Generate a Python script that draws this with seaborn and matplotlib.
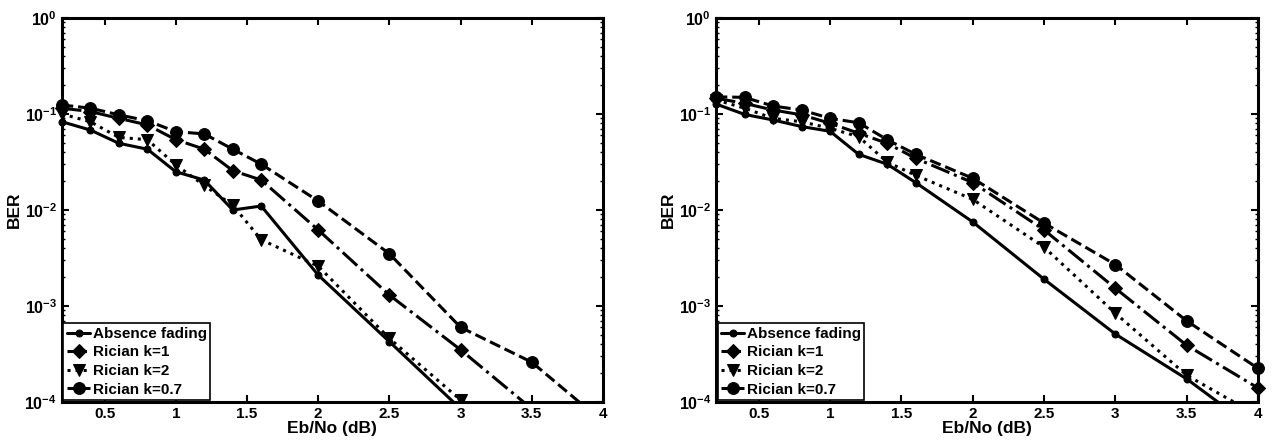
import math

import matplotlib
matplotlib.use("Agg")
import matplotlib.pyplot as plt
import matplotlib.ticker as mticker
from matplotlib.transforms import Bbox, TransformedBbox
import pandas as pd
import seaborn as sns

# Eb/No sample points (dB)
ebno = [0.2, 0.4, 0.6, 0.8, 1.0, 1.2, 1.4, 1.6, 2.0, 2.5, 3.0, 3.5, 4.0]

series_names = ["Absence fading", "Rician k=1", "Rician k=2", "Rician k=0.7"]

# left panel
left_absence = [0.083, 0.068, 0.0495, 0.043, 0.025, 0.0205, 0.010, 0.011, 0.0021, 0.000425, 8.5e-5]
left_k1 = [0.115, 0.106, 0.090, 0.077, 0.054, 0.043, 0.0257, 0.0205, 0.0062, 0.0013, 3.5e-4, 8.5e-5]
left_k2 = [0.100, 0.083, 0.057, 0.054, 0.0295, 0.018, 0.0112, 0.0049, 0.0026, 0.00046, 1.05e-4]
left_k07 = [0.124, 0.115, 0.098, 0.085, 0.0655, 0.062, 0.043, 0.030, 0.0124, 0.0035, 6.0e-4, 2.6e-4, 6.2e-5]

# right panel
right_absence = [0.127, 0.099, 0.0866, 0.074, 0.066, 0.038, 0.030, 0.0193, 0.0075, 0.0019, 5.1e-4, 1.74e-4, 4.9e-5]
right_k1 = [0.146, 0.129, 0.110, 0.098, 0.080, 0.063, 0.0495, 0.0345, 0.0193, 0.0062, 0.00153, 3.9e-4, 1.4e-4]
right_k2 = [0.140, 0.115, 0.090, 0.083, 0.071, 0.058, 0.0315, 0.023, 0.0129, 0.0041, 8.4e-4, 1.9e-4, 7.2e-5]
right_k07 = [0.151, 0.149, 0.121, 0.110, 0.090, 0.081, 0.054, 0.038, 0.0214, 0.0073, 0.0027, 7.0e-4, 2.24e-4]

styles = {
    "Absence fading": dict(ls="-", marker="o", ms=5),
    "Rician k=1": dict(ls="-.", marker="D", ms=7),
    "Rician k=2": dict(ls=":", marker="v", ms=9),
    "Rician k=0.7": dict(ls="--", marker="o", ms=8.5),
}

sns.set_theme(style="ticks")
plt.rcParams["font.family"] = ["Liberation Sans", "DejaVu Sans"]
plt.rcParams["font.weight"] = "bold"
plt.rcParams["text.color"] = "black"
plt.rcParams["axes.labelcolor"] = "black"
plt.rcParams["xtick.color"] = "black"
plt.rcParams["ytick.color"] = "black"
plt.rcParams["mathtext.fontset"] = "custom"
plt.rcParams["mathtext.bf"] = "Liberation Sans:bold"
plt.rcParams["mathtext.rm"] = "Liberation Sans:bold"
plt.rcParams["mathtext.default"] = "bf"


def make_df(cols):
    rows = []
    for name, vals in zip(series_names, cols):
        for x, y in zip(ebno, vals):
            rows.append({"Eb/No": x, "BER": y, "series": name})
    return pd.DataFrame(rows)


def draw(ax, df):
    for name in series_names:
        st = styles[name]
        sns.lineplot(
            data=df[df["series"] == name],
            x="Eb/No",
            y="BER",
            ax=ax,
            color="black",
            linewidth=2.2,
            linestyle=st["ls"],
            marker=st["marker"],
            markersize=st["ms"],
            markeredgecolor="black",
            markerfacecolor="black",
            label=name,
        )
    # let markers spill over the left/right/top spines (bottom stays clipped)
    box = TransformedBbox(Bbox([[-0.04, 0.0], [1.04, 1.05]]), ax.transAxes)
    for ln in ax.lines:
        ln.set_clip_box(box)
        ln.set_zorder(3)
    ax.set_yscale("log")
    ax.set_xlim(0.2, 4)
    ax.set_ylim(1e-4, 1)
    ax.set_xticks([0.5, 1, 1.5, 2, 2.5, 3, 3.5, 4])
    ax.xaxis.set_major_formatter(mticker.FuncFormatter(lambda v, p: f"{v:g}"))
    ax.set_yticks([1e-4, 1e-3, 1e-2, 1e-1, 1])
    ax.yaxis.set_major_formatter(
        mticker.FuncFormatter(lambda v, p: r"$\mathbf{10^{%d}}$" % round(math.log10(v)))
    )
    ax.yaxis.set_minor_locator(mticker.LogLocator(base=10, subs=range(2, 10)))
    ax.yaxis.set_minor_formatter(mticker.NullFormatter())
    ax.tick_params(which="both", direction="in", top=True, right=True, labelsize=11)
    ax.tick_params(axis="y", labelsize=11.5)
    ax.tick_params(which="major", length=5, width=1.5)
    ax.tick_params(which="minor", length=2.5, width=1)
    for s in ax.spines.values():
        s.set_linewidth(2.2)
        s.set_color("black")
    ax.set_xlabel("Eb/No (dB)", fontsize=12.5, fontweight="bold", labelpad=0)
    ax.set_ylabel("BER", fontsize=12.5, fontweight="bold", labelpad=2)
    leg = ax.legend(
        loc="lower left",
        fontsize=11,
        handlelength=1.5,
        handletextpad=0.15,
        borderpad=0.25,
        labelspacing=0.3,
        borderaxespad=0.1,
        fancybox=False,
        framealpha=1,
        edgecolor="black",
    )
    leg.get_frame().set_linewidth(1.2)
    leg.set_zorder(5)


fig = plt.figure(figsize=(12.72, 4.45), dpi=100)
ax1 = fig.add_axes([0.0487, 0.0966, 0.4253, 0.863])
ax2 = fig.add_axes([0.5629, 0.0966, 0.4261, 0.863])

draw(ax1, make_df([left_absence, left_k1, left_k2, left_k07]))
draw(ax2, make_df([right_absence, right_k1, right_k2, right_k07]))

fig.savefig("out.png", dpi=100, facecolor="white")
